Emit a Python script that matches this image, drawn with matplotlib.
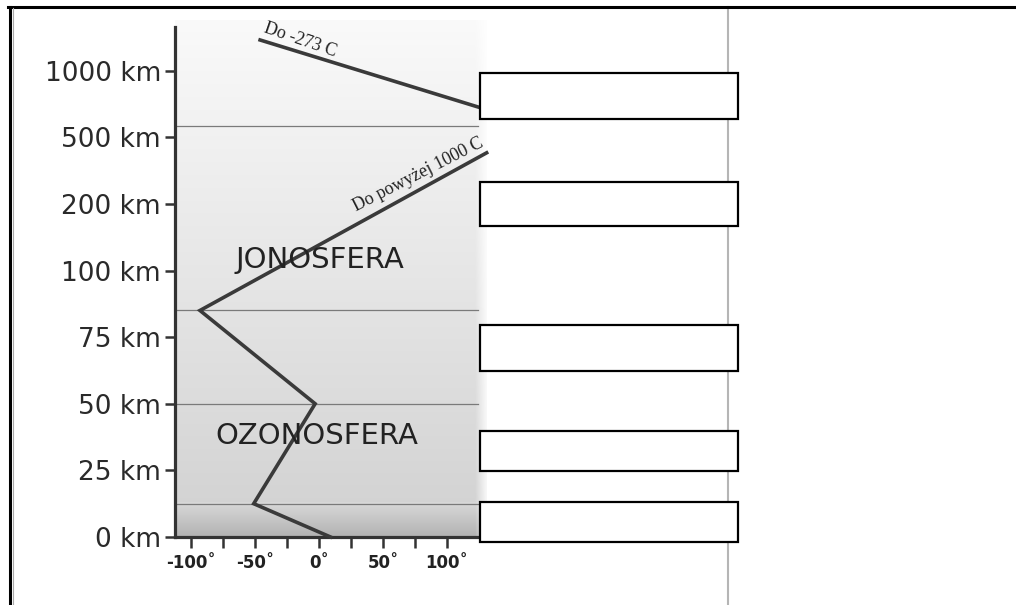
import numpy as np
import matplotlib
matplotlib.use("Agg")
import matplotlib.pyplot as plt
from matplotlib.patches import Rectangle
from matplotlib.lines import Line2D
from matplotlib.scale import FuncScale

# ---- data ----
tick_km = [0, 25, 50, 75, 100, 200, 500, 1000]
tick_labels = [f"{k} km" for k in tick_km]
temp_ticks = [-100, -50, 0, 50, 100]
temp_labels = ["-100˚", "-50˚", "0˚", "50˚", "100˚"]
temp_minor = [-75, -25, 25, 75]

profile_temp = [9, -51, -3, -93, 131]       # °C
profile_alt = [0, 12.5, 50, 85, 430]        # km
upper_temp = [-46, 125]
upper_alt = [1230, 725]
layer_bounds = [12.5, 50, 85, 585]          # km

# piecewise scale: labelled altitudes evenly spaced
km_ext = [-1000] + tick_km + [3000]
idx_ext = [-40] + list(range(len(tick_km))) + [11]

def fwd(v):
    return np.interp(v, km_ext, idx_ext)

def inv(v):
    return np.interp(v, idx_ext, km_ext)

W, H = 1016, 605
fig = plt.figure(figsize=(W / 100, H / 100), dpi=100)
fig.patch.set_facecolor("white")

L, R, B, T = 175, 486, 537, 20
ax = fig.add_axes([L / W, 1 - B / H, (R - L) / W, (B - T) / H])
ax.set_yscale(FuncScale(ax, (fwd, inv)))
ax.set_xlim(-112.5, 130.5)
ax.set_ylim(0, inv(7.76))

# background gradient
n = 400
t = np.linspace(1, 0, n)  # top -> bottom (axes fraction)
stops_t = [1.0, 0.52, 0.067, 0.066, 0.0]
stops_v = [0.98, 0.905, 0.83, 0.85, 0.70]
col = np.interp(t, stops_t[::-1], stops_v[::-1])
img = np.repeat(col[:, None], 200, axis=1)
xs = np.linspace(0, 1, 200)
fade = np.clip((xs - 0.965) / 0.035, 0, 1)
img = img + (1 - img) * fade[None, :] * 0.8
ax.imshow(np.dstack([img, img, img]), extent=[0, 1, 0, 1], transform=ax.transAxes,
          aspect="auto", zorder=0, interpolation="bilinear")

for b in layer_bounds:
    ax.plot([-112.5, 124], [b, b], color="#7a7a7a", lw=0.9, zorder=1)

ax.plot(profile_temp, profile_alt, color="#3a3a3a", lw=2.6, zorder=3,
        solid_joinstyle="miter", clip_on=False)
ax.plot(upper_temp, upper_alt, color="#3a3a3a", lw=2.6, zorder=3, clip_on=False)

ax.text(-44.5, 1262, "Do -273 C", family="Liberation Serif", fontsize=13,
        rotation=-19, rotation_mode="anchor", ha="left", va="bottom", color="#222")
ax.text(130.5, 445, "Do powyżej 1000 C", family="Liberation Serif", fontsize=13,
        rotation=27, rotation_mode="anchor", ha="right", va="bottom", color="#222")

ax.text(1, 104, "JONOSFERA", fontsize=21, ha="center", va="baseline", color="#222", zorder=4)
ax.text(-2, 35, "OZONOSFERA", fontsize=21, ha="center", va="baseline", color="#222", zorder=4)

# axes styling
for s in ["top", "right"]:
    ax.spines[s].set_visible(False)
ax.spines["left"].set_color("#333333")
ax.spines["left"].set_linewidth(2.3)
ax.spines["left"].set_bounds(0, inv(7.66))
ax.spines["bottom"].set_color("#333333")
ax.spines["bottom"].set_linewidth(2.3)
ax.spines["bottom"].set_bounds(-112.5, 124)

ax.set_yticks(tick_km)
ax.set_yticklabels(tick_labels)
ax.set_xticks(temp_ticks)
ax.set_xticklabels(temp_labels, fontweight="bold")
ax.set_xticks(temp_minor, minor=True)
ax.yaxis.set_minor_locator(matplotlib.ticker.NullLocator())
ax.tick_params(axis="y", length=7, width=1.8, pad=3, labelsize=19,
               color="#333", labelcolor="#2a2a2a")
ax.tick_params(axis="x", which="both", length=8, width=1.8, pad=4, labelsize=12,
               color="#333", labelcolor="#222")

# answer boxes
boxes = [(73, 119), (182, 226), (325, 371), (431, 471), (502, 542)]
for y0, y1 in boxes:
    fig.add_artist(Rectangle((480 / W, 1 - y1 / H), (738 - 480) / W, (y1 - y0) / H,
                             transform=fig.transFigure, facecolor="white",
                             edgecolor="black", lw=1.6, zorder=10))

# frame lines
fig.add_artist(Line2D([728 / W, 728 / W], [0, 1 - 7 / H], transform=fig.transFigure,
                      color="#b5b5b5", lw=1.5, zorder=5))
fig.add_artist(Line2D([8 / W, 1], [1 - 7 / H, 1 - 7 / H], transform=fig.transFigure,
                      color="black", lw=2.2, zorder=11))
fig.add_artist(Line2D([9.5 / W, 9.5 / W], [0, 1 - 7 / H], transform=fig.transFigure,
                      color="black", lw=2.2, zorder=11))
fig.add_artist(Line2D([12.5 / W, 12.5 / W], [0, 1 - 8 / H], transform=fig.transFigure,
                      color="#aaaaaa", lw=0.8, zorder=11))

fig.savefig("out.png", dpi=100)
